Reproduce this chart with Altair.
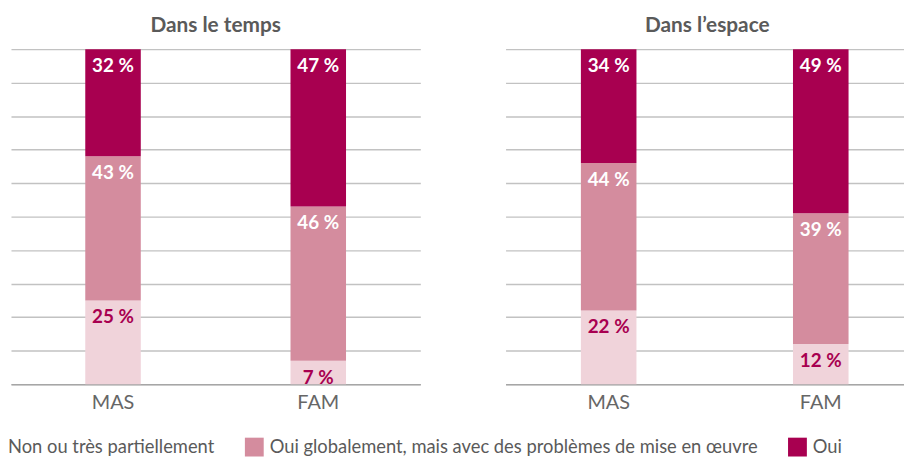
import altair as alt
import pandas as pd

panels = ["Dans le temps", "Dans l’espace"]
etablissements = ["MAS", "FAM"]
categories = [
    "Non ou très partiellement",
    "Oui globalement, mais avec des problèmes de mise en œuvre",
    "Oui",
]
colors = ["#f0d3da", "#d48c9e", "#a80050"]

# values per panel, per category, per établissement (MAS, FAM)
temps_non = [25, 7]
temps_glob = [43, 46]
temps_oui = [32, 47]
espace_non = [22, 12]
espace_glob = [44, 39]
espace_oui = [34, 49]

rows = []
for panel, series in [
    (panels[0], [temps_non, temps_glob, temps_oui]),
    (panels[1], [espace_non, espace_glob, espace_oui]),
]:
    for ci, (cat, vals) in enumerate(zip(categories, series)):
        for e, v in zip(etablissements, vals):
            rows.append({"panel": panel, "etab": e, "cat": cat, "rank": ci,
                         "value": v, "label": f"{v}\u202f%"})
df = pd.DataFrame(rows)

FONT = "Lato"


def panel_chart(panel, width, align, p_inner, p_outer):
    base = alt.Chart(df).transform_filter(alt.datum.panel == panel)
    xscale = alt.Scale(paddingInner=p_inner, paddingOuter=p_outer, align=align)
    xaxis = alt.Axis(labelAngle=0, labelFontSize=20, labelColor="#666666",
                     labelFont=FONT, labelPadding=9, ticks=False,
                     domainColor="#a6a6a6", domainWidth=1.5)
    yaxis = alt.Axis(values=list(range(0, 101, 10)), labels=False,
                     ticks=False, domain=False, grid=True,
                     gridColor="#c2c2c2", gridWidth=1.4)
    yscale = alt.Scale(domain=[0, 100], nice=False)
    x = alt.X("etab:N", sort=etablissements, title=None, scale=xscale, axis=xaxis)
    y = alt.Y("value:Q", stack="zero", title=None, scale=yscale, axis=yaxis)
    bars = base.mark_bar().encode(
        x=x, y=y,
        color=alt.Color("cat:N", sort=categories,
                        scale=alt.Scale(domain=categories, range=colors),
                        legend=alt.Legend(title=None)),
        order=alt.Order("rank:Q"),
    )
    text = base.mark_text(dy=17, fontSize=19, fontWeight="bold", font=FONT,
                          baseline="middle").encode(
        x=x, y=y,
        order=alt.Order("rank:Q"),
        text="label:N",
        color=alt.condition(alt.datum.rank == 0, alt.value("#a80050"), alt.value("white")),
    )
    return alt.layer(bars, text).properties(
        width=width, height=338,
        title=alt.TitleParams(panel, fontSize=21, font=FONT, fontWeight="bold",
                              color="#5a5a5a", offset=13, anchor="middle"),
    )


left = panel_chart(panels[0], 413, 0.5, 0.7295, 0.362)
right = panel_chart(panels[1], 407, 0.555, 0.738, 0.32)

chart = alt.hconcat(left, right, spacing=86).resolve_scale(color="shared").properties(
    autosize=alt.AutoSizeParams(type="none"),
    padding={"left": 3, "top": 38, "right": 901, "bottom": 411},
).configure_view(stroke=None).configure_legend(
    orient="none", legendX=-28, legendY=392, direction="horizontal",
    symbolType="square", symbolSize=361, symbolStrokeWidth=0, symbolOpacity=1,
    labelFontSize=18.5, labelFont=FONT, labelColor="#5a5a5a", labelLimit=0,
    columnPadding=30, labelOffset=6, padding=0,
)

chart.save("out.html", embed_options={"renderer": "svg", "actions": False})
